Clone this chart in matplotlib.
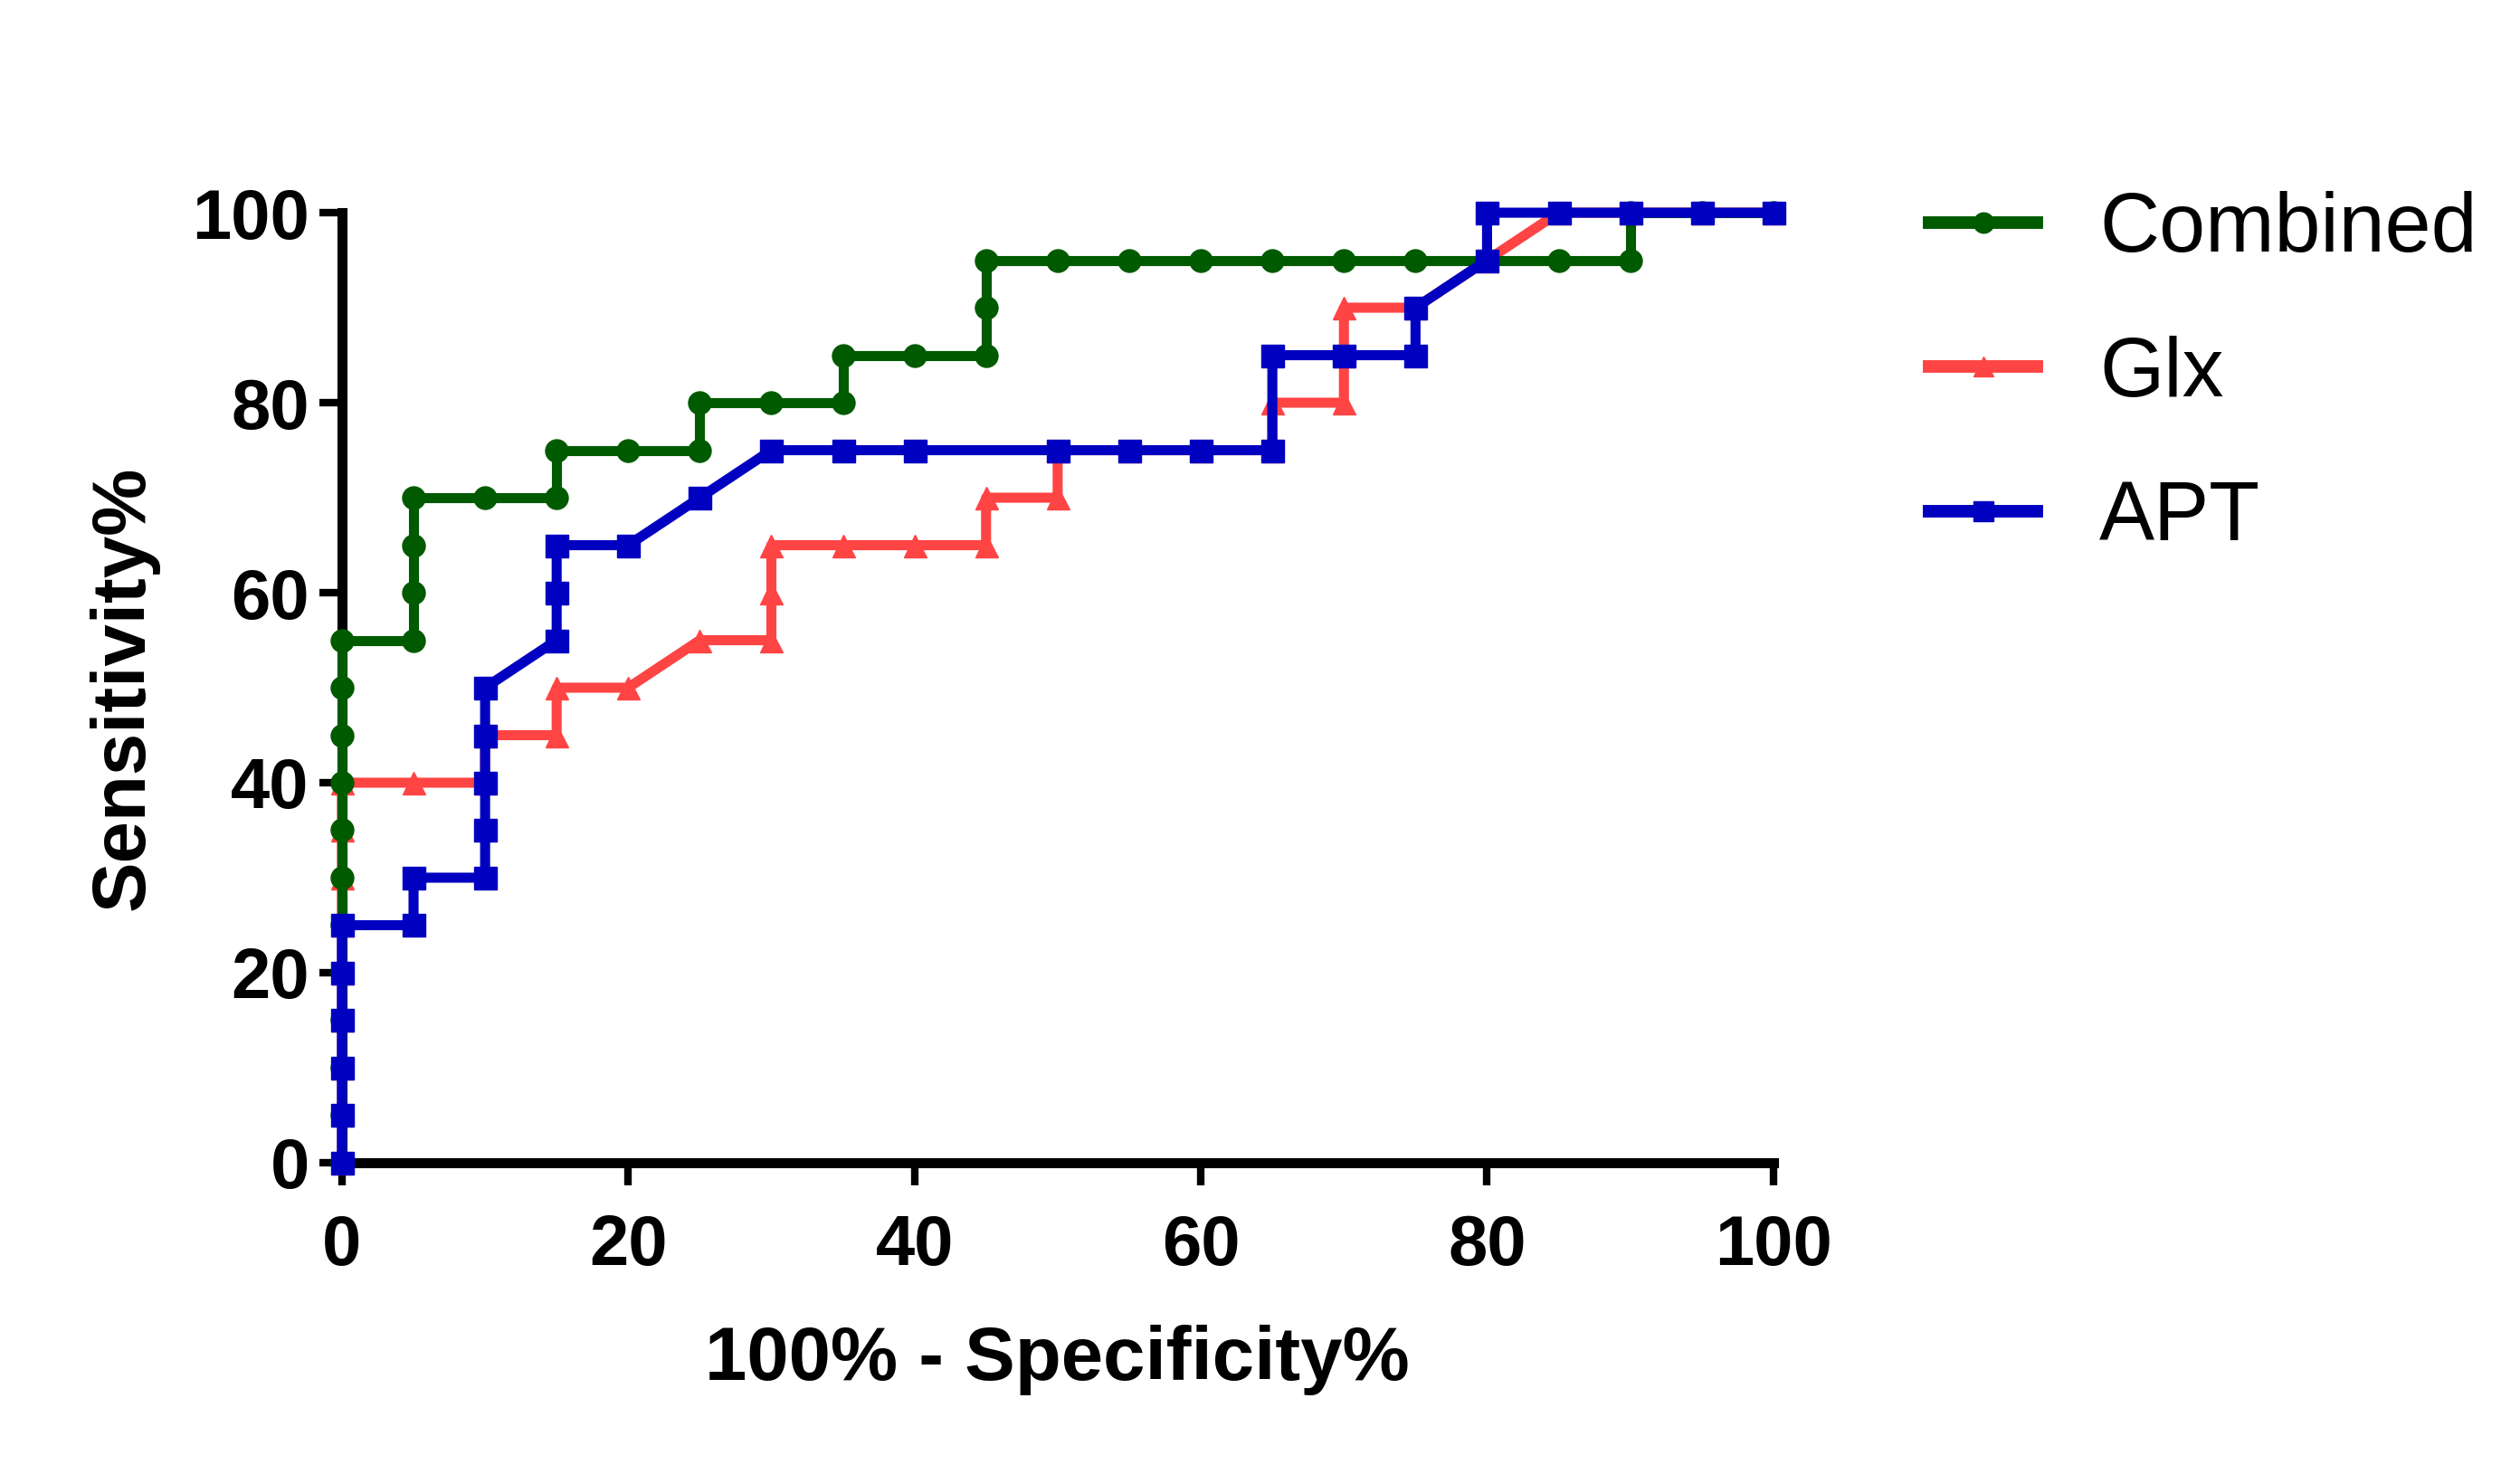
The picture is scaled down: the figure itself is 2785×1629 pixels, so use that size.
#!/usr/bin/env python3
# coding: utf-8

"""ROC curves: Combined vs Glx vs APT."""

import matplotlib
matplotlib.use("Agg")
import matplotlib.pyplot as plt

# ROC points (100% - specificity, sensitivity)
comb_x = [0, 0, 0, 0, 0, 0, 0, 0, 0, 0, 0, 0, 5, 5, 5, 5, 10, 15, 15, 20, 25, 25,
          30, 35, 35, 40, 45, 45, 45, 50, 55, 60, 65, 70, 75, 80, 85, 90, 90, 95, 100]
comb_y = [0, 5, 10, 15, 20, 25, 30, 35, 40, 45, 50, 55, 55, 60, 65, 70, 70, 70, 75, 75, 75, 80,
          80, 80, 85, 85, 85, 90, 95, 95, 95, 95, 95, 95, 95, 95, 95, 95, 100, 100, 100]

glx_x = [0, 0, 0, 0, 0, 0, 0, 0, 0, 5, 10, 10, 15, 15, 20, 25, 30, 30, 30, 35, 40, 45, 45,
         50, 50, 55, 60, 65, 65, 70, 70, 70, 75, 80, 85, 90, 95, 100]
glx_y = [0, 5, 10, 15, 20, 25, 30, 35, 40, 40, 40, 45, 45, 50, 50, 55, 55, 60, 65, 65, 65, 65, 70,
         70, 75, 75, 75, 75, 80, 80, 85, 90, 90, 95, 100, 100, 100, 100]

apt_x = [0, 0, 0, 0, 0, 0, 5, 5, 10, 10, 10, 10, 10, 15, 15, 15, 20, 25, 30, 35, 40,
         50, 55, 60, 65, 65, 70, 75, 75, 80, 80, 85, 90, 95, 100]
apt_y = [0, 5, 10, 15, 20, 25, 25, 30, 30, 35, 40, 45, 50, 55, 60, 65, 65, 70, 75, 75, 75,
         75, 75, 75, 75, 85, 85, 85, 90, 95, 100, 100, 100, 100, 100]

ticks = [0, 20, 40, 60, 80, 100]

fig = plt.figure(figsize=(27.85, 16.29), dpi=100)
ax = fig.add_axes([0.1357, 0.2112, 0.568, 0.6445])

lw = 8
ms = 18
l_glx, = ax.plot(glx_x, glx_y, color="#FF4444", lw=lw, marker="^", ms=ms, clip_on=False, zorder=3)
l_comb, = ax.plot(comb_x, comb_y, color="#005A00", lw=lw, marker="o", ms=ms, clip_on=False, zorder=4)
l_apt, = ax.plot(apt_x, apt_y, color="#0000C0", lw=lw, marker="s", ms=ms, clip_on=False, zorder=5)

ax.set_xlim(0, 100)
ax.set_ylim(0, 100)
ax.set_xticks(ticks)
ax.set_yticks(ticks)
for s in ("top", "right"):
    ax.spines[s].set_visible(False)
for s in ("left", "bottom"):
    ax.spines[s].set_linewidth(8)
ax.tick_params(axis="both", length=18, width=6, labelsize=56)
ax.tick_params(axis="x", pad=22)
ax.tick_params(axis="y", pad=8)
for lab in ax.get_xticklabels() + ax.get_yticklabels():
    lab.set_fontfamily("Liberation Sans")
    lab.set_fontweight("bold")

ax.set_xlabel("100% - Specificity%", fontsize=60, fontweight="bold",
              family="Liberation Sans", labelpad=36)
ax.set_ylabel("Sensitivity%", fontsize=60, fontweight="bold",
              family="Liberation Sans", labelpad=26)

leg = ax.legend([l_comb, l_glx, l_apt], ["Combined", "Glx", "APT"],
                loc="upper left", bbox_to_anchor=(0.736, 0.921), bbox_transform=fig.transFigure,
                frameon=False, prop={"family": "Liberation Sans", "size": 66},
                handlelength=1.3, handletextpad=0.75, labelspacing=0.8, markerscale=0.9)
for h in leg.get_lines():
    h.set_linewidth(10)

fig.savefig("out.png", dpi=100)
